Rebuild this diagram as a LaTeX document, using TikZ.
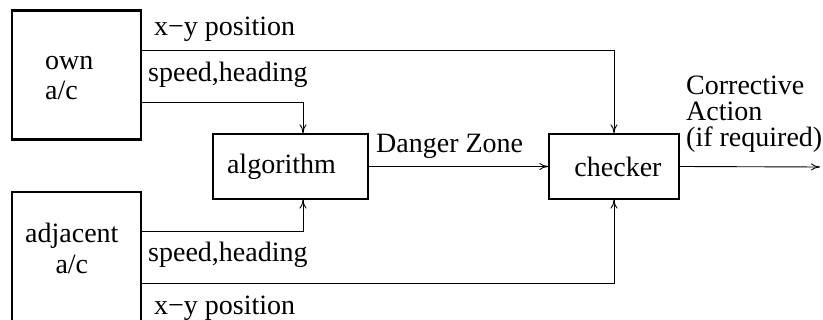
\documentclass[tikz,border=0pt]{standalone}
\usepackage{fontspec}
\setmainfont{Liberation Serif}
\usetikzlibrary{arrows.meta}
\begin{document}
\begin{tikzpicture}[x=1pt,y=-1pt,
  bigbox/.style={draw, line width=2.6pt, minimum width=129pt, minimum height=129pt, inner sep=0pt},
  procbox/.style={draw, line width=1.2pt, minimum height=65pt, inner sep=0pt, font=\fontsize{28}{30}\selectfont},
  lbl/.style={font=\fontsize{28}{30}\selectfont, inner sep=0pt, anchor=base west},
  conn/.style={line width=0.9pt, -{To[length=9pt,width=7pt]}}]
\useasboundingbox (0,0) rectangle (823,320);
\node[bigbox] (own) at (76.5,75) {};
\node[bigbox, minimum height=160pt] (adj) at (76.5,272) {};
\node[procbox, minimum width=155pt] (algo) at (290.5,166.5) {algorithm\kern18pt\relax};
\node[procbox, minimum width=130pt] (checker) at (614,166.5) {\kern8pt\relax checker};
\coordinate (out) at (820,167);
% texts (base anchor of a multi-line node is the last line's baseline)
\node[lbl, align=left] (owntxt) at (45,100) {own\\a/c};
\node[lbl, align=center, font=\fontsize{28}{31}\selectfont] (adjtxt) at (25,274) {adjacent\\a/c};
\node[lbl] (xy1) at (154,36) {x−y position};
\node[lbl] (sh1) at (148,82) {speed,heading};
\node[lbl] (sh2) at (148,262) {speed,heading};
\node[lbl] (xy2) at (154,315) {x−y position};
\node[lbl] (dz) at (376,153) {Danger Zone};
\node[lbl, align=left, font=\fontsize{28}{26}\selectfont] (ca) at (686,147) {Corrective\\Action\\(if required)};
% connectors
\draw[conn] (own.east |- 0,50) -| (checker.north);
\draw[conn] (own.east |- 0,102) -| ([xshift=12.5pt]algo.north);
\draw[conn] (adj.east |- 0,231) -| ([xshift=12.5pt]algo.south);
\draw[conn] (adj.east |- 0,283) -| (checker.south);
\draw[conn] (algo.east) -- (checker.west);
\draw[conn] (checker.east) -- (out);
\end{tikzpicture}
\end{document}
